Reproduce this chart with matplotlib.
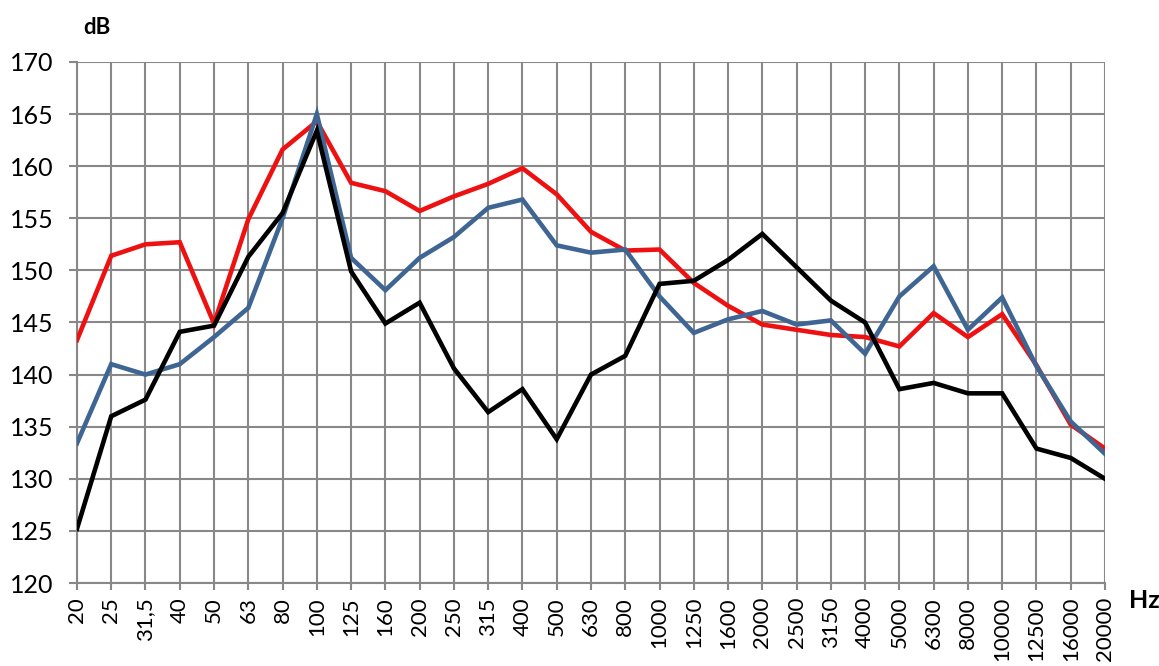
import numpy as np
import matplotlib.pyplot as plt

# frecuencias de tercio de octava
frecuencias = ["20", "25", "31,5", "40", "50", "63", "80", "100", "125", "160",
               "200", "250", "315", "400", "500", "630", "800", "1000", "1250",
               "1600", "2000", "2500", "3150", "4000", "5000", "6300", "8000",
               "10000", "12500", "16000", "20000"]

serie_roja = [143.3, 151.4, 152.5, 152.7, 144.9, 154.9, 161.6, 164.3, 158.4, 157.6,
              155.7, 157.1, 158.3, 159.8, 157.3, 153.7, 151.9, 152.0, 148.8,
              146.6, 144.8, 144.3, 143.8, 143.6, 142.7, 145.9, 143.6, 145.8,
              140.9, 135.2, 132.9]

serie_azul = [133.4, 141.0, 140.0, 141.0, 143.6, 146.4, 155.0, 165.0, 151.2, 148.1,
              151.2, 153.2, 156.0, 156.8, 152.4, 151.7, 152.0, 147.5, 144.0,
              145.3, 146.1, 144.8, 145.2, 142.0, 147.5, 150.4, 144.3, 147.4,
              140.8, 135.5, 132.4]

serie_negra = [125.2, 136.0, 137.6, 144.1, 144.7, 151.3, 155.5, 163.4, 149.9, 144.9,
               146.9, 140.6, 136.4, 138.6, 133.8, 140.0, 141.8, 148.7, 149.0,
               151.0, 153.5, 150.3, 147.1, 145.0, 138.6, 139.2, 138.2, 138.2,
               132.9, 132.0, 130.0]

plt.rcParams['font.family'] = ['Lato', 'DejaVu Sans']

fig = plt.figure(figsize=(11.59, 6.66), dpi=100)
ax = fig.add_axes([0.0664, 0.1246, 0.887, 0.7824])

x = np.arange(len(frecuencias))
ax.plot(x, serie_roja, color="#ee1111", linewidth=3.3, solid_joinstyle="miter", zorder=3)
ax.plot(x, serie_azul, color="#3f6593", linewidth=3.3, solid_joinstyle="miter", zorder=4)
ax.plot(x, serie_negra, color="black", linewidth=3.3, solid_joinstyle="miter", zorder=5)

ax.set_xlim(0, len(frecuencias) - 1)
ax.set_ylim(120, 170)
ax.set_yticks(np.arange(120, 171, 5))
ax.set_xticks(x)
ax.set_xticklabels(frecuencias, rotation=90, fontsize=16)
ax.tick_params(axis="y", labelsize=18, length=6, width=1.5, color="#888888", pad=11)
ax.tick_params(axis="x", length=5, width=1.5, color="#888888", pad=5)

ax.grid(True, color="#888888", linewidth=1.5)
ax.set_axisbelow(True)
for lado in ["top", "right"]:
    ax.spines[lado].set_visible(False)
for lado in ["left", "bottom"]:
    ax.spines[lado].set_color("#888888")
    ax.spines[lado].set_linewidth(1.5)

fig.text(0.072, 0.958, "dB", fontsize=16, fontweight="bold", ha="left", va="center")
fig.text(0.987, 0.099, "Hz", fontsize=18, fontweight="bold", ha="center", va="center")

plt.savefig("out.png", dpi=100)
plt.close()
